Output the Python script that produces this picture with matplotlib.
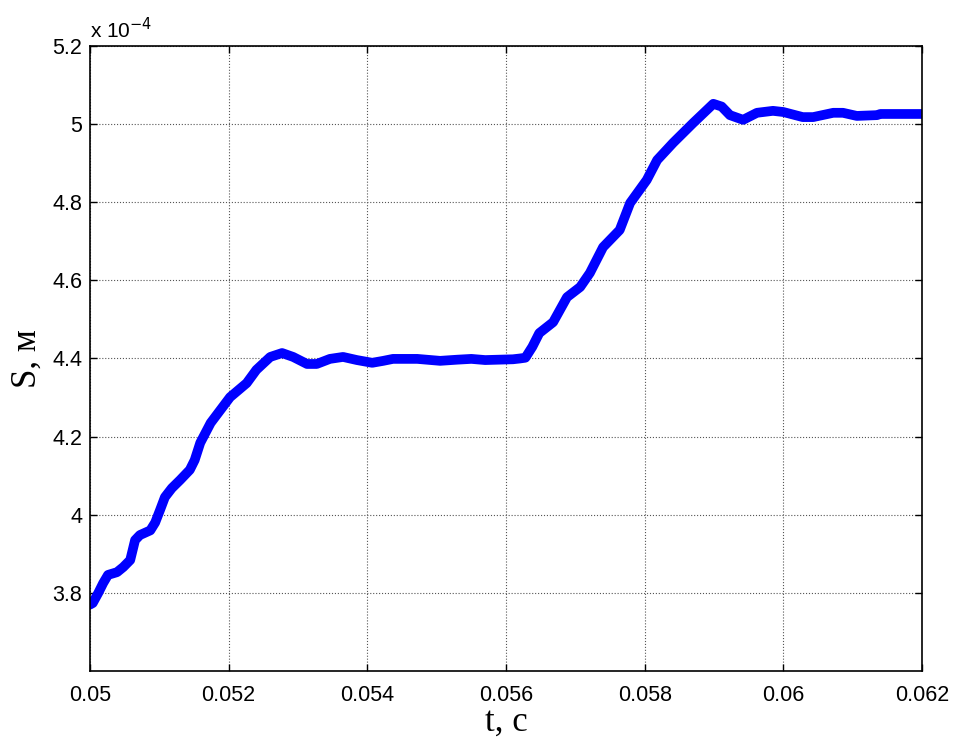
import matplotlib
matplotlib.use('Agg')
import matplotlib.pyplot as plt

# time, s
t = [0.05, 0.05004, 0.05012, 0.05019, 0.05026, 0.05039, 0.05048, 0.05058,
     0.05065, 0.05072, 0.05087, 0.05094, 0.05101, 0.05108, 0.05118, 0.0513,
     0.05144, 0.05151, 0.05159, 0.05174, 0.05188, 0.05202, 0.05226, 0.0524,
     0.0526, 0.05277, 0.05293, 0.05313, 0.05327, 0.05346, 0.05365, 0.05385,
     0.05407, 0.05423, 0.05437, 0.05472, 0.05505, 0.0553, 0.0555, 0.0557,
     0.0559, 0.0561, 0.0562, 0.05628, 0.05638, 0.05648, 0.05668, 0.05688,
     0.05707, 0.05721, 0.0574, 0.05764, 0.05779, 0.05803, 0.05818, 0.05841,
     0.0587, 0.05886, 0.05899, 0.05911, 0.05923, 0.05942, 0.05962, 0.05985,
     0.06, 0.06028, 0.06043, 0.06072, 0.06086, 0.06106, 0.06135, 0.0614,
     0.0617, 0.062]
# displacement, x 1e-4 m
s = [3.77, 3.774, 3.80, 3.825, 3.846, 3.853, 3.866, 3.884,
     3.935, 3.948, 3.96, 3.98, 4.012, 4.045, 4.068, 4.089,
     4.115, 4.14, 4.184, 4.235, 4.268, 4.301, 4.337, 4.371,
     4.404, 4.414, 4.404, 4.386, 4.386, 4.399, 4.404, 4.396,
     4.389, 4.394, 4.399, 4.399, 4.394, 4.397, 4.399, 4.396,
     4.397, 4.398, 4.40, 4.402, 4.43, 4.465, 4.493, 4.557,
     4.583, 4.619, 4.685, 4.729, 4.798, 4.857, 4.908, 4.952,
     5.003, 5.03, 5.052, 5.045, 5.023, 5.011, 5.029, 5.034,
     5.031, 5.018, 5.018, 5.029, 5.029, 5.021, 5.023, 5.026,
     5.026, 5.026]

xticks = [0.05, 0.052, 0.054, 0.056, 0.058, 0.06, 0.062]
xticklabels = ['0.05', '0.052', '0.054', '0.056', '0.058', '0.06', '0.062']
yticks = [3.8, 4.0, 4.2, 4.4, 4.6, 4.8, 5.0, 5.2]
yticklabels = ['3.8', '4', '4.2', '4.4', '4.6', '4.8', '5', '5.2']

plt.rcParams['font.family'] = ['Liberation Sans', 'DejaVu Sans']

fig = plt.figure(figsize=(9.55, 7.44), dpi=100)
ax = fig.add_axes([90 / 955, 1 - 671 / 744, 832 / 955, 625 / 744])

ax.plot(t, s, color='#0000ff', linewidth=7, solid_capstyle='round',
        solid_joinstyle='round')

ax.set_xlim(0.05, 0.062)
ax.set_ylim(3.6, 5.2)
ax.set_xticks(xticks)
ax.set_xticklabels(xticklabels)
ax.set_yticks(yticks)
ax.set_yticklabels(yticklabels)
ax.tick_params(direction='in', length=5, width=1, labelsize=15.5,
               top=True, right=True, colors='black')
ax.tick_params(axis='x', pad=10)
ax.tick_params(axis='y', pad=5.5)
ax.grid(True, color='#555555', linestyle=':', linewidth=0.8)
for sp in ax.spines.values():
    sp.set_linewidth(1.2)

ax.set_xlabel('t, с', family='Liberation Serif', fontsize=25, labelpad=0)
ax.set_ylabel('S, м', family='Liberation Serif', fontsize=25, labelpad=6)

fig.text(90 / 955, 1 - 30 / 744, r'x 10$^{-4}$', fontsize=15,
         ha='left', va='center')

fig.savefig('out.png', dpi=100)
